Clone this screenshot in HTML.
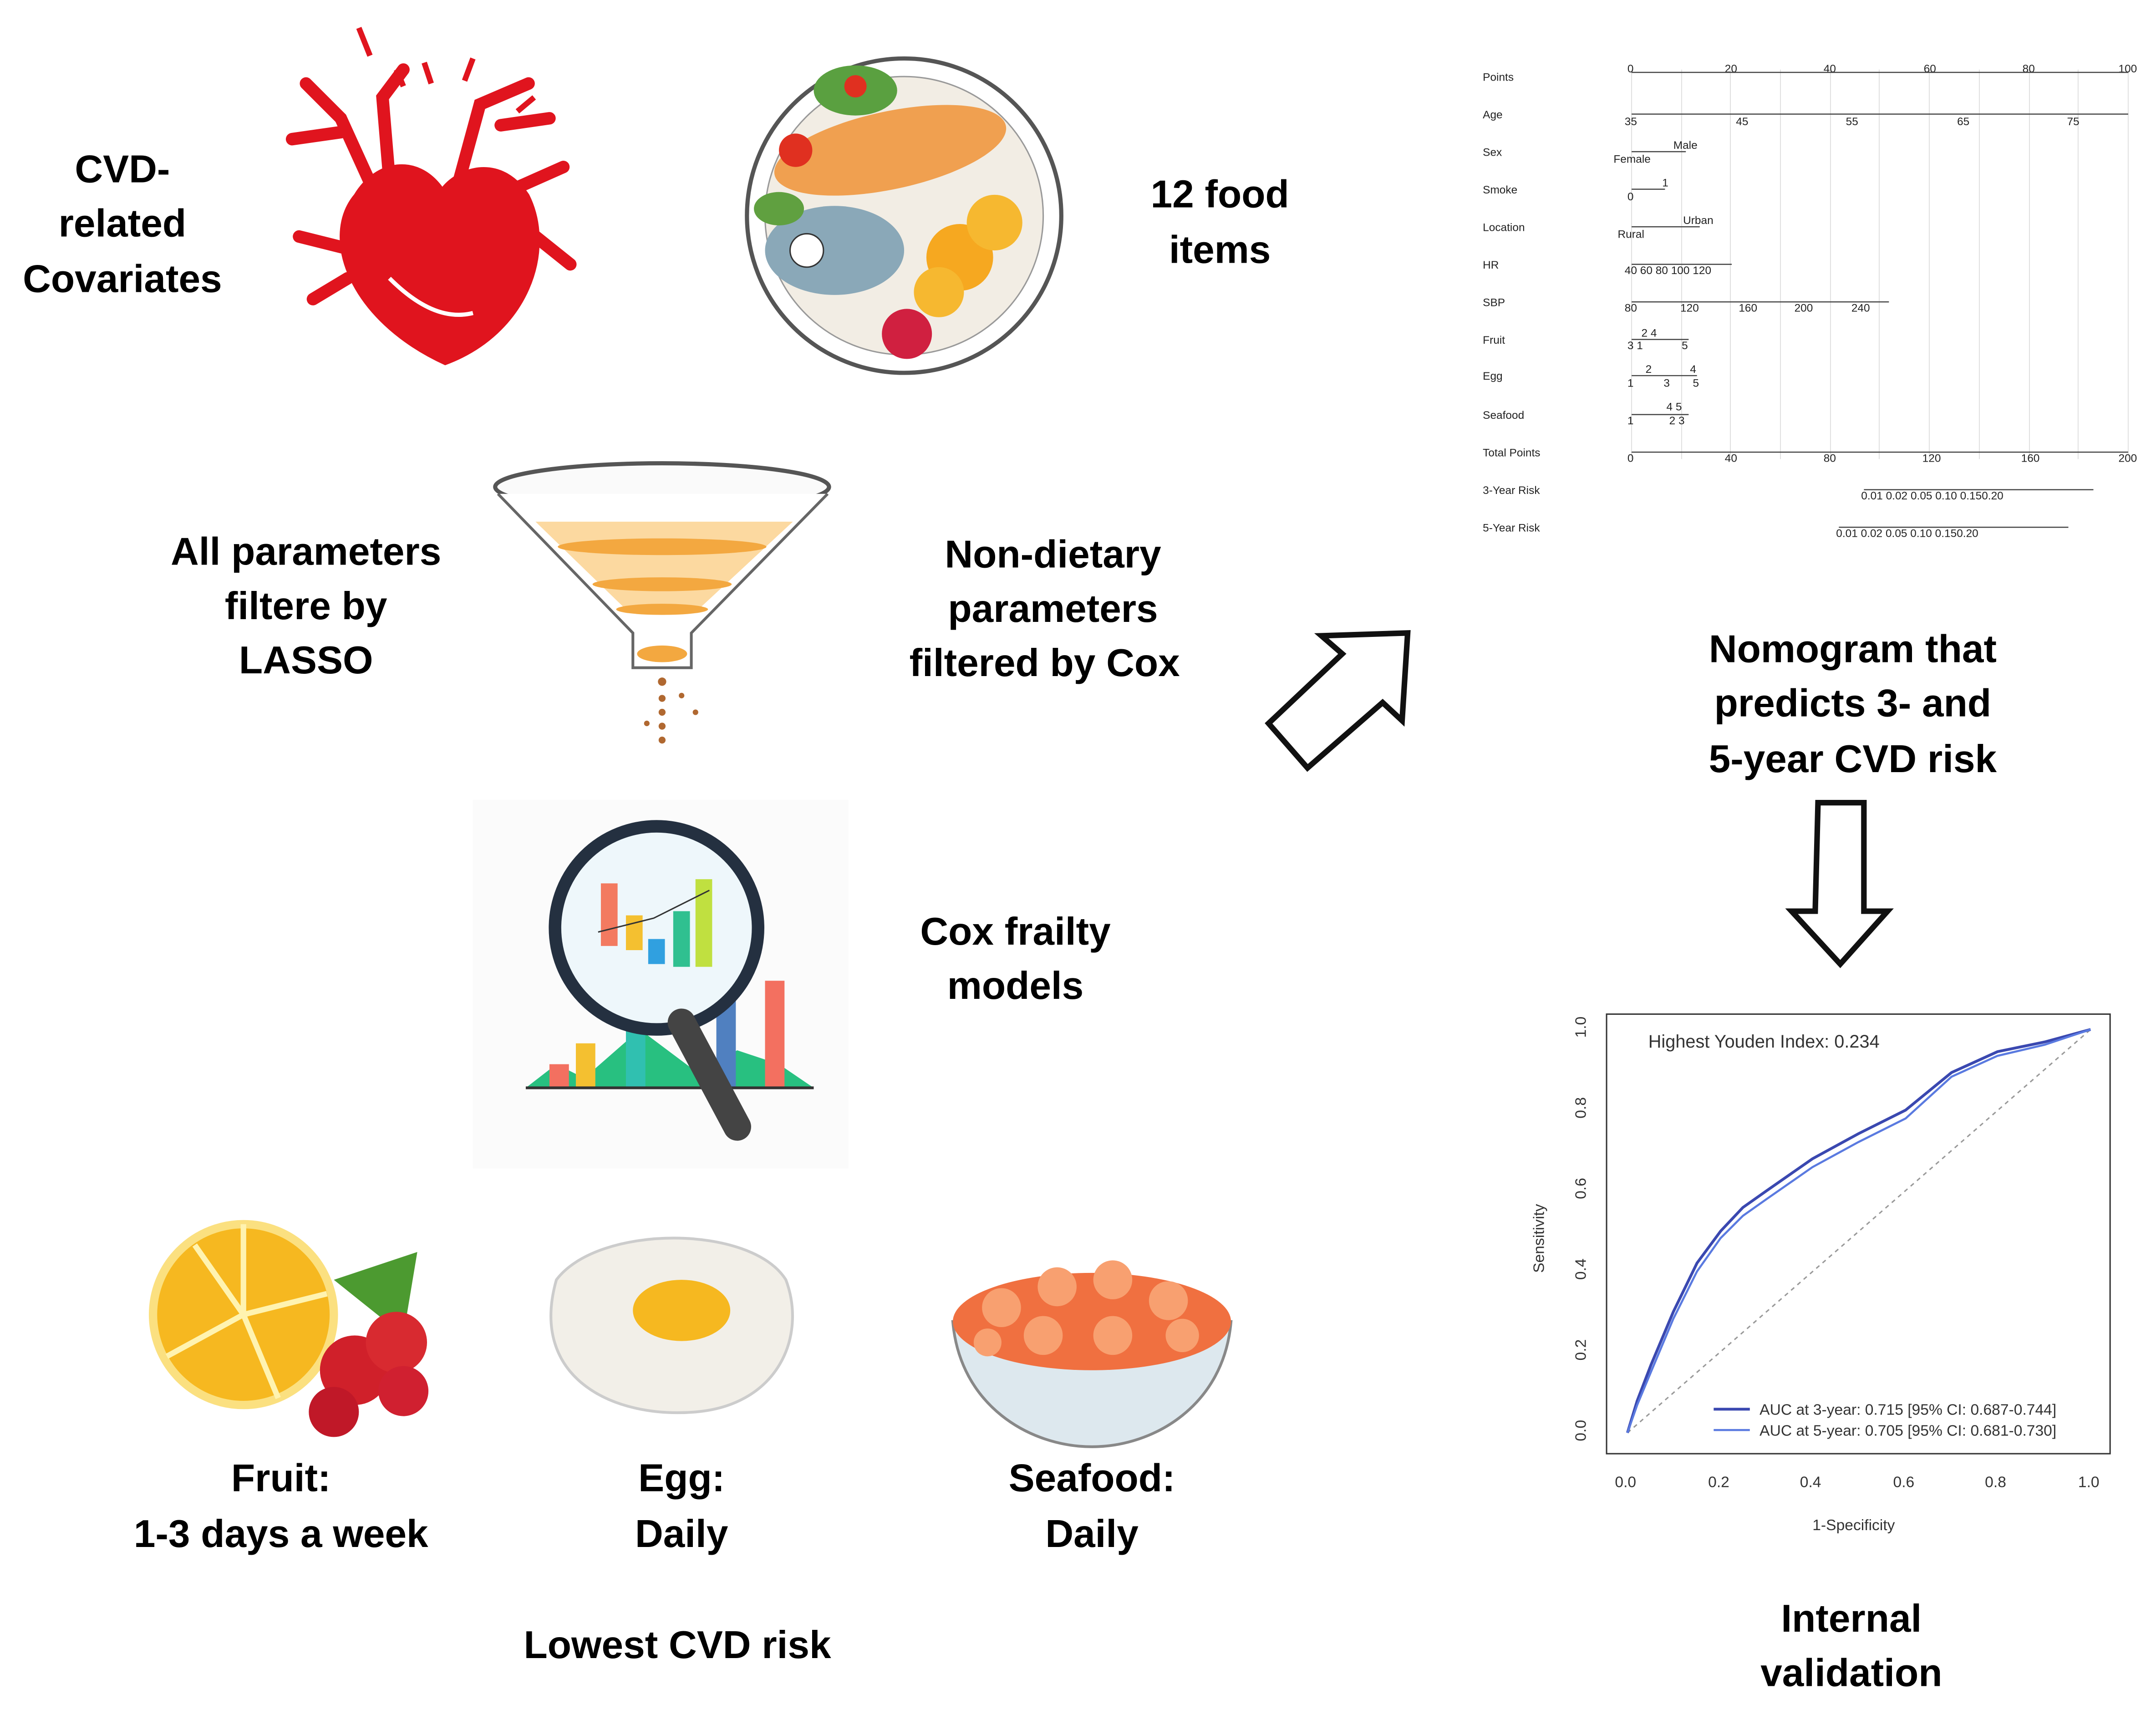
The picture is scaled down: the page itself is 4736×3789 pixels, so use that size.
<!DOCTYPE html>
<html><head><meta charset="utf-8"><style>
html,body{margin:0;padding:0;background:#fff;}
svg{display:block;}
.t{font-family:"Liberation Sans",sans-serif;font-weight:bold;font-size:28px;fill:#000;text-anchor:middle;}
.n{font-family:"Liberation Sans",sans-serif;font-size:8px;fill:#222;}
.r{font-family:"Liberation Sans",sans-serif;font-size:11px;fill:#333;}
</style></head><body>
<svg width="4736" height="3789" viewBox="0 0 1550 1240" xmlns="http://www.w3.org/2000/svg">
<rect width="1550" height="1240" fill="#fff"/>
<!-- texts -->
<text class="t" x="88" y="131">CVD-</text>
<text class="t" x="88" y="170">related</text>
<text class="t" x="88" y="210">Covariates</text>
<text class="t" x="877" y="149">12 food</text>
<text class="t" x="877" y="189">items</text>
<text class="t" x="220" y="406">All parameters</text>
<text class="t" x="220" y="445">filtere by</text>
<text class="t" x="220" y="484">LASSO</text>
<text class="t" x="757" y="408">Non-dietary</text>
<text class="t" x="757" y="447">parameters</text>
<text class="t" x="751" y="486">filtered by Cox</text>
<text class="t" x="730" y="679">Cox frailty</text>
<text class="t" x="730" y="718">models</text>
<text class="t" x="202" y="1072">Fruit:</text>
<text class="t" x="202" y="1112">1-3 days a week</text>
<text class="t" x="490" y="1072">Egg:</text>
<text class="t" x="490" y="1112">Daily</text>
<text class="t" x="785" y="1072">Seafood:</text>
<text class="t" x="785" y="1112">Daily</text>
<text class="t" x="487" y="1192">Lowest CVD risk</text>
<text class="t" x="1332" y="476">Nomogram that</text>
<text class="t" x="1332" y="515">predicts 3- and</text>
<text class="t" x="1332" y="555">5-year CVD risk</text>
<text class="t" x="1331" y="1173">Internal</text>
<text class="t" x="1331" y="1212">validation</text>

<!-- heart -->
<g fill="#e0141e" stroke="#e0141e">
<path d="M255 140 C230 170 250 230 320 262 C380 240 400 180 380 140 C360 110 330 120 318 135 C300 110 270 115 255 140Z"/>
<g stroke-width="9" fill="none" stroke-linecap="round">
<path d="M270 140 L245 85 L220 60"/><path d="M245 95 L210 100"/><path d="M280 130 L275 70 L290 50"/>
<path d="M330 130 L345 75 L380 60"/><path d="M360 140 L405 120"/><path d="M385 170 L410 190"/>
<path d="M255 180 L215 170"/><path d="M250 200 L225 215"/><path d="M360 90 L395 85"/>
</g>
<g stroke-width="4"><path d="M258 20 L266 40"/><path d="M285 50 L290 62"/><path d="M305 45 L310 60"/><path d="M340 42 L334 58"/><path d="M372 80 L384 70"/></g>
</g>
<path d="M280 200 C300 220 320 230 340 225" stroke="#fff" stroke-width="3" fill="none"/>

<!-- plate -->
<circle cx="650" cy="155" r="113" fill="#fff" stroke="#555" stroke-width="3"/>
<circle cx="650" cy="155" r="100" fill="#f2ede4" stroke="#999"/>
<ellipse cx="640" cy="108" rx="85" ry="28" fill="#f0a050" transform="rotate(-12 640 108)"/>
<ellipse cx="615" cy="65" rx="30" ry="18" fill="#5aa040"/>
<ellipse cx="600" cy="180" rx="50" ry="32" fill="#8aa8b8"/>
<circle cx="580" cy="180" r="12" fill="#fff" stroke="#333"/>
<circle cx="690" cy="185" r="24" fill="#f6a820"/><circle cx="715" cy="160" r="20" fill="#f6b830"/><circle cx="675" cy="210" r="18" fill="#f6b830"/>
<circle cx="652" cy="240" r="18" fill="#d02040"/><circle cx="572" cy="108" r="12" fill="#e03020"/><circle cx="615" cy="62" r="8" fill="#e03020"/>
<ellipse cx="560" cy="150" rx="18" ry="12" fill="#60a040"/>

<!-- funnel -->
<ellipse cx="476" cy="350" rx="120" ry="17" fill="#fafafa" stroke="#555" stroke-width="3"/>
<path d="M358 355 L455 455 L455 480 L497 480 L497 455 L595 355" fill="#fff" stroke="#666" stroke-width="2"/>
<path d="M385 375 L570 375 L500 440 L452 440Z" fill="#fcd9a0"/>
<ellipse cx="476" cy="393" rx="75" ry="6" fill="#f3a840"/><ellipse cx="476" cy="420" rx="50" ry="5" fill="#f3a840"/>
<ellipse cx="476" cy="438" rx="33" ry="4" fill="#f3a840"/><ellipse cx="476" cy="470" rx="18" ry="6" fill="#f3a840"/>
<g fill="#b06830"><circle cx="476" cy="490" r="3"/><circle cx="476" cy="502" r="2.5"/><circle cx="476" cy="512" r="2.5"/><circle cx="476" cy="522" r="2.5"/><circle cx="476" cy="532" r="2.5"/><circle cx="490" cy="500" r="2"/><circle cx="465" cy="520" r="2"/><circle cx="500" cy="512" r="2"/></g>

<!-- magnifier -->
<rect x="340" y="575" width="270" height="265" fill="#fbfbfb"/>
<path d="M378 782 L400 765 L420 775 L460 740 L500 770 L530 755 L560 765 L585 782Z" fill="#28c080"/>
<rect x="395" y="765" width="14" height="17" fill="#f37060"/><rect x="414" y="750" width="14" height="32" fill="#f4c030"/>
<rect x="450" y="740" width="14" height="42" fill="#30c0b0"/><rect x="515" y="710" width="14" height="72" fill="#5080c0"/><rect x="550" y="705" width="14" height="77" fill="#f37060"/>
<line x1="378" y1="782" x2="585" y2="782" stroke="#333" stroke-width="2"/>
<circle cx="472" cy="667" r="73" fill="#eef7fb" stroke="#243040" stroke-width="9"/>
<rect x="432" y="635" width="12" height="45" fill="#f37a60"/><rect x="450" y="658" width="12" height="25" fill="#f4c030"/>
<rect x="466" y="675" width="12" height="18" fill="#30a0e0"/><rect x="484" y="655" width="12" height="40" fill="#30c090"/><rect x="500" y="632" width="12" height="63" fill="#c0e040"/>
<path d="M430 670 L470 660 L510 640" stroke="#333" fill="none"/>
<path d="M490 735 L530 810" stroke="#444" stroke-width="20" stroke-linecap="round"/>

<!-- fruit -->
<circle cx="175" cy="945" r="65" fill="#f6b820" stroke="#fbe080" stroke-width="6"/>
<path d="M175 945 L175 880 M175 945 L235 930 M175 945 L140 895 M175 945 L120 975 M175 945 L200 1005" stroke="#fff3b0" stroke-width="4"/>
<path d="M240 920 L300 900 L290 960Z" fill="#4c9a30"/>
<circle cx="255" cy="985" r="25" fill="#d0202a"/><circle cx="285" cy="965" r="22" fill="#d82a30"/><circle cx="240" cy="1015" r="18" fill="#c01828"/><circle cx="290" cy="1000" r="18" fill="#d02030"/>
<!-- egg -->
<path d="M400 920 C430 880 540 880 565 920 C580 960 560 1010 500 1015 C440 1020 380 990 400 920Z" fill="#f2efe8" stroke="#ccc" stroke-width="2"/>
<ellipse cx="490" cy="942" rx="35" ry="22" fill="#f6b820"/>
<!-- shrimp bowl -->
<path d="M685 950 L885 950 C880 1010 830 1040 785 1040 C740 1040 690 1010 685 950Z" fill="#dde8ee" stroke="#888" stroke-width="2"/>
<ellipse cx="785" cy="950" rx="100" ry="35" fill="#f07040"/>
<g fill="#f8a070"><circle cx="720" cy="940" r="14"/><circle cx="760" cy="925" r="14"/><circle cx="800" cy="920" r="14"/><circle cx="840" cy="935" r="14"/><circle cx="750" cy="960" r="14"/><circle cx="800" cy="960" r="14"/><circle cx="850" cy="960" r="12"/><circle cx="710" cy="965" r="10"/></g>

<!-- diagonal arrow -->
<path d="M912 520 L965 470 L950 457 L1012 455 L1008 518 L994 505 L940 552Z" fill="#fff" stroke="#111" stroke-width="4"/>
<!-- down arrow -->
<path d="M1307 577 L1340 577 L1340 655 L1357 655 L1323 693 L1288 655 L1305 655Z" fill="#fff" stroke="#111" stroke-width="4"/>

<!-- nomogram -->
<g stroke="#ddd" stroke-width="0.6">
<line x1="1173" y1="50" x2="1173" y2="330"/><line x1="1209" y1="50" x2="1209" y2="330"/><line x1="1244" y1="50" x2="1244" y2="330"/><line x1="1280" y1="50" x2="1280" y2="330"/><line x1="1316" y1="50" x2="1316" y2="330"/><line x1="1351" y1="50" x2="1351" y2="330"/><line x1="1387" y1="50" x2="1387" y2="330"/><line x1="1423" y1="50" x2="1423" y2="330"/><line x1="1459" y1="50" x2="1459" y2="330"/><line x1="1494" y1="50" x2="1494" y2="330"/><line x1="1530" y1="50" x2="1530" y2="330"/>
</g>
<g class="n">
<text x="1066" y="58">Points</text><text x="1066" y="85">Age</text><text x="1066" y="112">Sex</text><text x="1066" y="139">Smoke</text><text x="1066" y="166">Location</text><text x="1066" y="193">HR</text><text x="1066" y="220">SBP</text><text x="1066" y="247">Fruit</text><text x="1066" y="273">Egg</text><text x="1066" y="301">Seafood</text><text x="1066" y="328">Total Points</text><text x="1066" y="355">3-Year Risk</text><text x="1066" y="382">5-Year Risk</text>
<text x="1170" y="52">0</text><text x="1240" y="52">20</text><text x="1311" y="52">40</text><text x="1383" y="52">60</text><text x="1454" y="52">80</text><text x="1523" y="52">100</text>
<text x="1168" y="90">35</text><text x="1248" y="90">45</text><text x="1327" y="90">55</text><text x="1407" y="90">65</text><text x="1486" y="90">75</text>
<text x="1203" y="107">Male</text><text x="1160" y="117">Female</text><text x="1195" y="134">1</text><text x="1170" y="144">0</text>
<text x="1210" y="161">Urban</text><text x="1163" y="171">Rural</text>
<text x="1168" y="197">40 60 80 100 120</text><text x="1168" y="224">80</text><text x="1208" y="224">120</text><text x="1250" y="224">160</text><text x="1290" y="224">200</text><text x="1331" y="224">240</text>
<text x="1180" y="242">2 4</text><text x="1170" y="251">3 1</text><text x="1209" y="251">5</text><text x="1183" y="268">2</text><text x="1215" y="268">4</text><text x="1170" y="278">1</text><text x="1196" y="278">3</text><text x="1217" y="278">5</text>
<text x="1198" y="295">4 5</text><text x="1170" y="305">1</text><text x="1200" y="305">2 3</text>
<text x="1170" y="332">0</text><text x="1240" y="332">40</text><text x="1311" y="332">80</text><text x="1382" y="332">120</text><text x="1453" y="332">160</text><text x="1523" y="332">200</text>
<text x="1338" y="359">0.01  0.02   0.05  0.10 0.150.20</text><text x="1320" y="386">0.01  0.02   0.05  0.10 0.150.20</text>
</g>
<g stroke="#444" stroke-width="0.8" fill="none">
<line x1="1173" y1="52" x2="1530" y2="52"/><line x1="1173" y1="82" x2="1530" y2="82"/><line x1="1173" y1="109" x2="1212" y2="109"/><line x1="1173" y1="136" x2="1197" y2="136"/><line x1="1173" y1="163" x2="1222" y2="163"/><line x1="1173" y1="190" x2="1245" y2="190"/><line x1="1173" y1="217" x2="1358" y2="217"/><line x1="1173" y1="244" x2="1214" y2="244"/><line x1="1173" y1="270" x2="1220" y2="270"/><line x1="1173" y1="298" x2="1214" y2="298"/><line x1="1173" y1="325" x2="1530" y2="325"/><line x1="1340" y1="352" x2="1505" y2="352"/><line x1="1322" y1="379" x2="1487" y2="379"/>
</g>

<!-- ROC -->
<rect x="1155" y="729" width="362" height="316" fill="none" stroke="#333" stroke-width="1"/>
<line x1="1170" y1="1030" x2="1503" y2="740" stroke="#999" stroke-dasharray="3,3"/>
<polyline fill="none" stroke="#3a48b0" stroke-width="2" points="1170,1030 1177,1007 1187,981 1203,943 1220,908 1237,885 1253,868 1270,856 1303,833 1336,815 1370,798 1403,771 1436,756 1470,749 1503,740"/>
<polyline fill="none" stroke="#5a7ae0" stroke-width="1.5" points="1170,1030 1177,1010 1187,986 1203,948 1220,914 1237,890 1253,874 1270,862 1303,839 1336,821 1370,804 1403,774 1436,759 1470,751 1503,740"/>
<g class="r"><text x="1185" y="753" font-size="13">Highest Youden Index: 0.234</text>
<text x="1265" y="1017">AUC at 3-year: 0.715 [95% CI: 0.687-0.744]</text><text x="1265" y="1032">AUC at 5-year: 0.705 [95% CI: 0.681-0.730]</text>
<text x="1161" y="1069">0.0</text><text x="1228" y="1069">0.2</text><text x="1294" y="1069">0.4</text><text x="1361" y="1069">0.6</text><text x="1427" y="1069">0.8</text><text x="1494" y="1069">1.0</text>
<text x="1303" y="1100">1-Specificity</text>
<text transform="translate(1140,1036) rotate(-90)">0.0</text><text transform="translate(1140,978) rotate(-90)">0.2</text><text transform="translate(1140,920) rotate(-90)">0.4</text><text transform="translate(1140,862) rotate(-90)">0.6</text><text transform="translate(1140,804) rotate(-90)">0.8</text><text transform="translate(1140,746) rotate(-90)">1.0</text>
<text transform="translate(1110,915) rotate(-90)">Sensitivity</text></g>
<line x1="1232" y1="1013" x2="1258" y2="1013" stroke="#3a48b0" stroke-width="2"/><line x1="1232" y1="1028" x2="1258" y2="1028" stroke="#5a7ae0" stroke-width="1.5"/>
</svg>
</body></html>
